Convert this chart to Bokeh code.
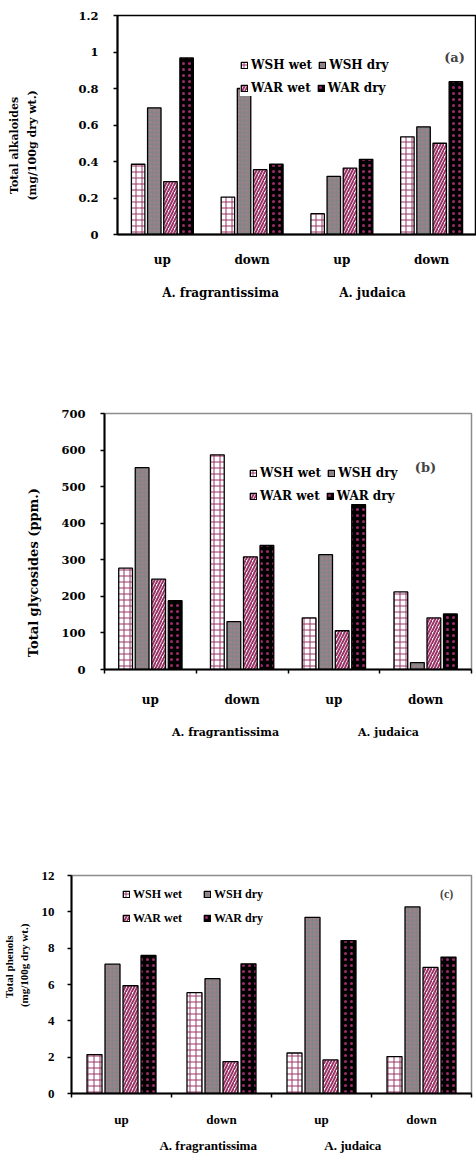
import math
from bokeh.plotting import figure
from bokeh.models import (FixedTicker, Label, Legend, LegendItem, ColumnDataSource,
                          Range1d, LinearAxis)
from bokeh.layouts import column
from bokeh.embed import file_html
from bokeh.resources import INLINE

# ---------------- data ----------------
categories = ["up", "down", "up", "down"]
species = ["A. fragrantissima", "A. judaica"]
series_names = ["WSH wet", "WSH dry", "WAR wet", "WAR dry"]

alkaloids_wsh_wet = [0.385, 0.205, 0.114, 0.535]
alkaloids_wsh_dry = [0.694, 0.80, 0.319, 0.590]
alkaloids_war_wet = [0.290, 0.355, 0.364, 0.500]
alkaloids_war_dry = [0.967, 0.385, 0.412, 0.837]

glycosides_wsh_wet = [277, 587, 141, 212]
glycosides_wsh_dry = [552, 131, 314, 19]
glycosides_war_wet = [247, 308, 106, 141]
glycosides_war_dry = [188, 339, 451, 152]

phenols_wsh_wet = [2.14, 5.55, 2.23, 2.03]
phenols_wsh_dry = [7.12, 6.32, 9.70, 10.27]
phenols_war_wet = [5.93, 1.76, 1.85, 6.94]
phenols_war_dry = [7.60, 7.14, 8.42, 7.51]

alk_ticks = [0, 0.2, 0.4, 0.6, 0.8, 1.0, 1.2]
alk_tick_labels = ["0", "0.2", "0.4", "0.6", "0.8", "1", "1.2"]
gly_ticks = [0, 100, 200, 300, 400, 500, 600, 700]
gly_tick_labels = ["0", "100", "200", "300", "400", "500", "600", "700"]
phe_ticks = [0, 2, 4, 6, 8, 10, 12]
phe_tick_labels = ["0", "2", "4", "6", "8", "10", "12"]

# ---------------- styles ----------------
MAROON = "#993366"
bar_styles = [
    dict(fill_color="white", hatch_pattern="+", hatch_color=MAROON, hatch_scale=6, hatch_weight=1),
    dict(fill_color="#858585", hatch_pattern=".", hatch_color="#b47a94", hatch_scale=4, hatch_weight=0.6),
    dict(fill_color="white", hatch_pattern="/", hatch_color=MAROON, hatch_scale=6, hatch_weight=2),
    dict(fill_color="black", hatch_pattern=".", hatch_color="#9e2b6e", hatch_scale=6, hatch_weight=2),
]
offsets = [-0.27, -0.09, 0.09, 0.27]
BAR_W = 0.15


def text_axis(p, side, ticks, labels, standoff, font, size, orientation):
    ax = LinearAxis(ticker=FixedTicker(ticks=ticks, minor_ticks=[]),
                    major_label_overrides={t: s for t, s in zip(ticks, labels)},
                    axis_line_color=None, major_tick_line_color=None,
                    minor_tick_line_color=None, major_tick_in=0, major_tick_out=0,
                    minor_tick_in=0, minor_tick_out=0,
                    major_label_standoff=standoff, major_label_orientation=orientation,
                    major_label_text_font=font, major_label_text_font_style="bold",
                    major_label_text_font_size=size, major_label_text_color="black")
    p.add_layout(ax, side)
    return ax


def make_panel(series_values, y_max, y_ticks, y_tick_labels, height, borders, font,
               outline_color, show_xticks, cat_standoff, ytick_standoff,
               tag_text, tag_xy, tag_size, group_xs, group_standoff, group_size,
               ylabel_lines, ylabel_standoffs, ylabel_y, ylabel_size,
               legend_locs, legend_spacing, legend_size, tick_size, cat_size):
    top, bottom, left, right = borders
    p = figure(width=476, height=height, output_backend="svg", toolbar_location=None,
               x_range=Range1d(0, 4), y_range=Range1d(0, y_max),
               min_border_top=top, min_border_bottom=bottom,
               min_border_left=left, min_border_right=right, frame_align=False)
    p.background_fill_color = "white"
    p.border_fill_color = "white"
    p.outline_line_color = outline_color
    p.outline_line_width = 1.5
    p.xgrid.visible = False
    p.ygrid.visible = False

    renderers = []
    for k, vals in enumerate(series_values):
        xs = [i + 0.5 + offsets[k] for i in range(len(categories))]
        src = ColumnDataSource(dict(x=xs, top=vals))
        r = p.vbar(x="x", top="top", width=BAR_W, source=src, line_color="black",
                   line_width=1.3, **bar_styles[k])
        renderers.append(r)

    # x axis (categories)
    xa = p.xaxis[0]
    xa.ticker = FixedTicker(ticks=[0.5, 1.5, 2.5, 3.5], minor_ticks=[0, 1, 2, 3, 4])
    xa.major_label_overrides = {i + 0.5: c for i, c in enumerate(categories)}
    xa.major_tick_line_color = None
    xa.major_tick_out = 0
    xa.major_tick_in = 0
    if show_xticks:
        xa.minor_tick_line_color = "black"
        xa.minor_tick_line_width = 1.5
        xa.minor_tick_out = 4
        xa.minor_tick_in = 0
    else:
        xa.minor_tick_line_color = None
    xa.axis_line_color = "black"
    xa.axis_line_width = 2
    xa.major_label_standoff = cat_standoff
    xa.major_label_text_font = font
    xa.major_label_text_font_style = "bold"
    xa.major_label_text_font_size = cat_size
    xa.major_label_text_color = "black"

    # species labels as a second axis below
    text_axis(p, "below", group_xs, species, group_standoff, font, group_size, "horizontal")

    # y axis
    ya = p.yaxis[0]
    ya.ticker = FixedTicker(ticks=y_ticks, minor_ticks=[])
    ya.major_label_overrides = {t: s for t, s in zip(y_ticks, y_tick_labels)}
    ya.major_tick_out = 4
    ya.major_tick_in = 0
    ya.major_tick_line_width = 1.3
    ya.minor_tick_line_color = None
    ya.axis_line_color = "black"
    ya.axis_line_width = 2
    ya.major_label_standoff = ytick_standoff
    ya.major_label_text_font = font
    ya.major_label_text_font_style = "bold"
    ya.major_label_text_font_size = tick_size
    ya.major_label_text_color = "black"

    # y axis title lines (innermost first)
    for line, so in zip(ylabel_lines, ylabel_standoffs):
        text_axis(p, "left", [ylabel_y], [line], so, font, ylabel_size, "parallel")

    # legends (one per row)
    items = [LegendItem(label=s, renderers=[r]) for s, r in zip(series_names, renderers)]
    for row, loc in enumerate(legend_locs):
        lg = Legend(items=items[2 * row:2 * row + 2], orientation="horizontal", location=loc,
                    background_fill_color="white", background_fill_alpha=1.0,
                    border_line_color=None, padding=3, margin=0, spacing=legend_spacing,
                    glyph_width=8, glyph_height=8, label_standoff=3, label_height=16,
                    label_text_font=font, label_text_font_style="bold",
                    label_text_font_size=legend_size, label_text_color="black")
        p.add_layout(lg)

    # panel tag
    p.add_layout(Label(x=tag_xy[0], y=tag_xy[1], text=tag_text, text_font=font,
                       text_font_style="bold", text_font_size=tag_size,
                       text_align="center", text_baseline="middle"))
    return p


pa = make_panel([alkaloids_wsh_wet, alkaloids_wsh_dry, alkaloids_war_wet, alkaloids_war_dry],
                1.2, alk_ticks, alk_tick_labels, height=380, borders=(15, 146, 117, 0),
                font="DejaVu Serif", outline_color="black", show_xticks=False,
                cat_standoff=14, ytick_standoff=15,
                tag_text="(a)", tag_xy=(3.755, 0.970), tag_size="13px",
                group_xs=[1.148, 2.841], group_standoff=16, group_size="12px",
                ylabel_lines=["(mg/100g dry wt.)", "Total alkaloides"],
                ylabel_standoffs=[36, 2], ylabel_y=0.488, ylabel_size="11px",
                legend_locs=[(123, 161), (123, 138)], legend_spacing=6,
                legend_size="12px", tick_size="11.5px", cat_size="12px")

pb = make_panel([glycosides_wsh_wet, glycosides_wsh_dry, glycosides_war_wet, glycosides_war_dry],
                700, gly_ticks, gly_tick_labels, height=480, borders=(33, 191, 104, 5),
                font="DejaVu Serif", outline_color="#8c8c8c", show_xticks=True,
                cat_standoff=19, ytick_standoff=15,
                tag_text="(b)", tag_xy=(3.499, 552), tag_size="13px",
                group_xs=[1.319, 3.095], group_standoff=16, group_size="11px",
                ylabel_lines=["Total glycosides (ppm.)"],
                ylabel_standoffs=[17], ylabel_y=265, ylabel_size="13px",
                legend_locs=[(145, 188), (145, 165)], legend_spacing=6,
                legend_size="12px", tick_size="11.5px", cat_size="12px")

pc = make_panel([phenols_wsh_wet, phenols_wsh_dry, phenols_war_wet, phenols_war_dry],
                12, phe_ticks, phe_tick_labels, height=297, borders=(15, 64, 70, 5),
                font="Liberation Serif", outline_color="#8c8c8c", show_xticks=True,
                cat_standoff=14, ytick_standoff=13,
                tag_text="(c)", tag_xy=(3.751, 11.0), tag_size="12px",
                group_xs=[1.367, 2.813], group_standoff=8, group_size="13px",
                ylabel_lines=["(mg/100g dry wt.)", "Total  phenols"],
                ylabel_standoffs=[8, 0], ylabel_y=7.05, ylabel_size="11px",
                legend_locs=[(51, 191), (51, 167)], legend_spacing=21,
                legend_size="12px", tick_size="13px", cat_size="13px")

layout = column(pa, pb, pc, spacing=0)
open("out.html", "w").write(file_html(layout, INLINE))
